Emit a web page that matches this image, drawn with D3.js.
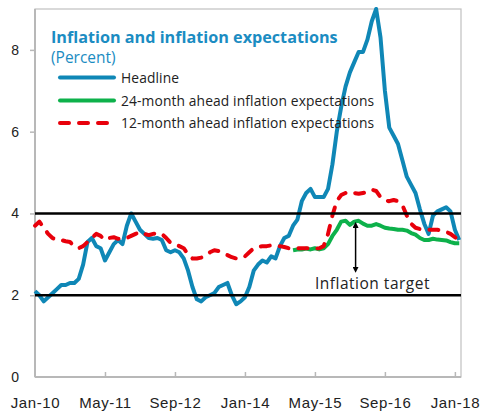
<!DOCTYPE html>
<html>
<head>
<meta charset="utf-8">
<script src="https://cdn.jsdelivr.net/npm/d3@7"></script>
<style>
  body { margin: 0; background: #fff; }
  svg { display: block; font-family: "Open Sans", "Noto Sans", sans-serif; }
</style>
</head>
<body>
<svg id="chart" width="482" height="413"></svg>
<script>
// monthly data, Jan-10 onwards (month index 0 = Jan-10)
const headline = [
  2.1, 2.0, 1.85, 1.95, 2.05, 2.15, 2.25, 2.25, 2.3, 2.3,
  2.4, 2.75, 3.3, 3.4, 3.2, 3.15, 2.85, 3.05, 3.25, 3.35,
  3.25, 3.7, 4.0, 3.8, 3.6, 3.5, 3.4, 3.38, 3.4, 3.35,
  3.1, 3.05, 3.1, 3.05, 2.9, 2.6, 2.2, 1.9, 1.85, 1.95,
  2.0, 2.05, 2.2, 2.25, 2.3, 2.0, 1.78, 1.85, 1.95, 2.2,
  2.6, 2.75, 2.85, 2.8, 2.95, 2.9, 3.2, 3.4, 3.45,
  3.7, 3.85, 4.3, 4.5, 4.6, 4.4, 4.4, 4.4, 4.6, 5.2,
  6.0, 6.6, 7.1, 7.45, 7.7, 7.95, 7.95, 8.25, 8.7, 9.0,
  8.3, 7.0, 6.1, 5.9, 5.7, 5.3, 4.9, 4.7, 4.5, 4.1,
  3.75, 3.5, 3.95, 4.05, 4.1, 4.15, 4.05, 3.6, 3.35
];
const exp12 = [
  3.7, 3.8, 3.65, 3.5, 3.4, 3.35, 3.35, 3.32, 3.3, 3.2,
  3.15, 3.2, 3.3, 3.4, 3.5, 3.45, 3.35, 3.4, 3.42, 3.38,
  3.38, 3.4, 3.45, 3.5, 3.55, 3.5, 3.47, 3.5, 3.52, 3.5,
  3.4, 3.28, 3.25, 3.2, 3.15, 3.0, 2.9, 2.9, 2.92, 2.97,
  3.05, 3.1, 3.08, 3.02, 2.98, 2.93, 2.9, 2.9, 2.95, 3.05,
  3.15, 3.18, 3.2, 3.2, 3.22, 3.2, 3.2, 3.18, 3.15,
  3.15, 3.15, 3.15, 3.15, 3.15, 3.14, 3.15, 3.2, 3.5, 3.95,
  4.3, 4.45, 4.5, 4.53, 4.5, 4.48, 4.5, 4.52, 4.58, 4.55,
  4.4, 4.32, 4.3, 4.33, 4.3, 4.2, 3.95, 3.75, 3.65, 3.62,
  3.6, 3.6, 3.6, 3.6, 3.58, 3.55, 3.5, 3.42, 3.35
];
const exp24Start = 59; // first month with a 24-month value
const exp24 = [
  3.1, 3.12, 3.12, 3.14, 3.12, 3.15, 3.12, 3.15, 3.25, 3.45,
  3.6, 3.8, 3.82, 3.72, 3.8, 3.82, 3.75, 3.7, 3.7, 3.74,
  3.7, 3.65, 3.63, 3.62, 3.6, 3.6, 3.58, 3.52, 3.48, 3.4,
  3.35, 3.35, 3.38, 3.36, 3.35, 3.34, 3.3, 3.27, 3.27
];
const targetBand = [2, 4];
const tickMonths = [0, 16, 32, 48, 64, 80, 96];
const tickLabels = ["Jan-10", "May-11", "Sep-12", "Jan-14", "May-15", "Sep-16", "Jan-18"];
const yTicks = [0, 2, 4, 6, 8];

const svg = d3.select('#chart');
const plotL = 35, plotR = 461, plotT = 9, plotB = 377;

const x = d3.scaleLinear().domain([0, 97.4]).range([plotL, plotR]);
const y = d3.scaleLinear().domain([0, 9]).range([plotB, plotT]);

const blue = '#0f87b6', green = '#0db14b', red = '#e8000b';

// frame
svg.append('rect')
  .attr('x', plotL).attr('y', plotT)
  .attr('width', plotR - plotL).attr('height', plotB - plotT)
  .attr('fill', 'none').attr('stroke', '#c0c0c0').attr('stroke-width', 1.2);
svg.append('line')
  .attr('x1', plotL).attr('x2', plotL).attr('y1', plotT).attr('y2', plotB)
  .attr('stroke', '#b8b8b8').attr('stroke-width', 2);
svg.append('line')
  .attr('x1', plotL).attr('x2', plotR).attr('y1', plotB).attr('y2', plotB)
  .attr('stroke', '#b8b8b8').attr('stroke-width', 2);

// y axis
const yAxis = svg.append('g')
  .attr('transform', `translate(${plotL},0)`)
  .call(d3.axisLeft(y).tickValues(yTicks).tickSize(5).tickPadding(11).tickFormat(d3.format('d')));
yAxis.select('.domain').remove();
yAxis.selectAll('line').attr('stroke', '#b8b8b8').attr('stroke-width', 1.5);
yAxis.selectAll('text').attr('font-size', 14).attr('fill', '#222');
yAxis.selectAll('.tick').filter(d => d === 0).select('line').remove();

// x axis
const xAxis = svg.append('g')
  .attr('transform', `translate(0,${plotB})`)
  .call(d3.axisBottom(x).tickValues(tickMonths).tickSize(-5).tickPadding(20)
    .tickFormat((d, i) => tickLabels[i]));
xAxis.select('.domain').remove();
xAxis.selectAll('line').attr('stroke', '#b8b8b8').attr('stroke-width', 1.5);
xAxis.selectAll('text').attr('font-size', 15).attr('letter-spacing', 0.6).attr('fill', '#222');
xAxis.selectAll('.tick').filter(d => d === 0).select('line').remove();

// series
const line = d3.line().x(d => x(d.m)).y(d => y(d.v)).curve(d3.curveLinear);
const hData = headline.map((v, i) => ({ m: i, v }));
const e12Data = exp12.map((v, i) => ({ m: i, v }));
const e24Data = exp24.map((v, i) => ({ m: i + exp24Start, v }));

svg.append('path').datum(hData).attr('d', line)
  .attr('fill', 'none').attr('stroke', blue).attr('stroke-width', 4)
  .attr('stroke-linejoin', 'round');
svg.append('path').datum(e24Data).attr('d', line)
  .attr('fill', 'none').attr('stroke', green).attr('stroke-width', 4)
  .attr('stroke-linejoin', 'round');
svg.append('path').datum(e12Data).attr('d', line)
  .attr('fill', 'none').attr('stroke', red).attr('stroke-width', 4)
  .attr('stroke-dasharray', '9 10').attr('stroke-linecap', 'round')
  .attr('stroke-linejoin', 'round');

// target band lines
svg.selectAll('.target').data(targetBand).enter().append('line')
  .attr('x1', plotL).attr('x2', plotR)
  .attr('y1', d => y(d)).attr('y2', d => y(d))
  .attr('stroke', '#000').attr('stroke-width', 2.5);

// double arrow + label
const defs = svg.append('defs');
defs.append('marker').attr('id', 'ah').attr('viewBox', '0 0 10 10')
  .attr('refX', 5).attr('refY', 5).attr('markerWidth', 4).attr('markerHeight', 4)
  .attr('orient', 'auto-start-reverse')
  .append('path').attr('d', 'M0,0 L10,5 L0,10 z').attr('fill', '#000');
svg.append('line')
  .attr('x1', x(73.3)).attr('x2', x(73.3))
  .attr('y1', y(3.72)).attr('y2', y(2.62))
  .attr('stroke', '#000').attr('stroke-width', 1.5)
  .attr('marker-start', 'url(#ah)').attr('marker-end', 'url(#ah)');
svg.append('text')
  .attr('x', 315).attr('y', 289)
  .attr('font-size', 15.5).attr('letter-spacing', 0.5).attr('fill', '#222')
  .text('Inflation target');

// legend
svg.append('text').attr('x', 51).attr('y', 43)
  .attr('font-size', 16.2).attr('font-weight', 'bold').attr('fill', '#1b8cc2')
  .text('Inflation and inflation expectations');
svg.append('text').attr('x', 51).attr('y', 63)
  .attr('font-size', 15.5).attr('fill', '#1b8cc2')
  .text('(Percent)');

const legendItems = [
  { label: 'Headline', color: blue, dash: null, yy: 77.5 },
  { label: '24-month ahead inflation expectations', color: green, dash: null, yy: 100.5 },
  { label: '12-month ahead inflation expectations', color: red, dash: '9 10', yy: 123 }
];
const lg = svg.append('g');
legendItems.forEach(it => {
  lg.append('line').attr('x1', 60).attr('x2', 114).attr('y1', it.yy).attr('y2', it.yy)
    .attr('stroke', it.color).attr('stroke-width', 4).attr('stroke-linecap', 'round')
    .attr('stroke-dasharray', it.dash);
  lg.append('text').attr('x', 121).attr('y', it.yy + 5)
    .attr('font-size', 13.8).attr('letter-spacing', 0.12).attr('fill', '#222').text(it.label);
});
</script>
</body>
</html>
